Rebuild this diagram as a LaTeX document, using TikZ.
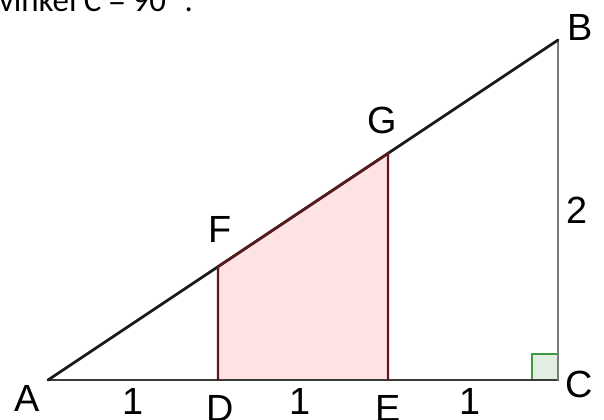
\documentclass[tikz,border=0pt]{standalone}
\usepackage{fontspec}
\setmainfont{Liberation Sans}
\newfontfamily\notefont{Carlito}
\usepackage{xcolor}
\usepackage{tikz}
\usetikzlibrary{calc}
\definecolor{sideblack}{HTML}{1A1A1A}
\definecolor{sidegray}{HTML}{7A7A7A}
\definecolor{basegray}{HTML}{3A3A3A}
\definecolor{darkred}{HTML}{5A1A1E}
\definecolor{pinkbg}{HTML}{FFE3E3}
\definecolor{greenx}{HTML}{3E9A3E}
\definecolor{greenbg}{HTML}{E3EEE3}
\tikzset{
  lbl/.style={font=\fontsize{19}{22}\selectfont,inner sep=0pt},
  side/.style={line width=1.4pt,line cap=round}
}
\begin{document}
\begin{tikzpicture}[x=3cm,y=3cm]
\useasboundingbox (-0.2824,-0.2294) rectangle (3.2706,2.2353);
\coordinate (A) at (0,0);
\coordinate (B) at (3,2);
\coordinate (C) at (3,0);
\coordinate (D) at (1,0);
\coordinate (E) at (2,0);
\coordinate (F) at (1,2/3);
\coordinate (G) at (2,4/3);
% shaded part
\fill[pinkbg] (D)--(E)--(G)--(F)--cycle;
\filldraw[fill=greenbg,draw=greenx,line width=1pt] (C) rectangle ($(C)+(-0.153,0.153)$);
\draw[side,basegray] (A)--(C);
\draw[side,sidegray,line width=1.2pt] (C)--(B);
\draw[side,sideblack] (A)--(B);
\draw[darkred,line width=1.2pt] (D)--(F)--(G)--(E);
% labels
\node[lbl] (lA) at (-0.121,-0.109) {A};
\node[lbl] (lB) at (3.129,2.074) {B};
\node[lbl] (lC) at (3.1235,-0.026) {C};
\node[lbl] (lD) at (1.012,-0.168) {D};
\node[lbl] (lE) at (2.0,-0.168) {E};
\node[lbl] (lF) at (1.012,0.888) {F};
\node[lbl] (lG) at (1.965,1.524) {G};
\node[lbl] (lAD) at (0.5,-0.129) {1};
\node[lbl] (lDE) at (1.482,-0.129) {1};
\node[lbl] (lEC) at (2.48,-0.129) {1};
\node[lbl] (lBC) at (3.112,1.0) {2};
\node[font=\notefont\fontsize{16.5}{20}\selectfont,inner sep=0pt,anchor=base west] (note) at (-0.29,2.165) {vinkel C = 90° .};
\end{tikzpicture}
\end{document}
